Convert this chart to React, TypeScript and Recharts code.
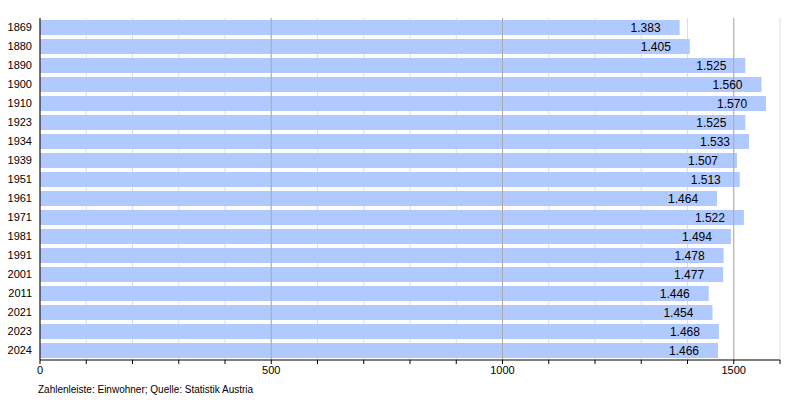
import { BarChart, Bar, XAxis, YAxis, CartesianGrid, ReferenceLine, LabelList } from 'recharts'

const years = ['1869', '1880', '1890', '1900', '1910', '1923', '1934', '1939', '1951', '1961', '1971', '1981', '1991', '2001', '2011', '2021', '2023', '2024']
const population = [1383, 1405, 1525, 1560, 1570, 1525, 1533, 1507, 1513, 1464, 1522, 1494, 1478, 1477, 1446, 1454, 1468, 1466]
const xTicks = [0, 100, 200, 300, 400, 500, 600, 700, 800, 900, 1000, 1100, 1200, 1300, 1400, 1500, 1600]
const majorTicks = [500, 1000, 1500]

const data = years.map((year, i) => ({ year, value: population[i] }))

// German thousands separator
const fmt = (v: any) => String(v).replace(/\B(?=(\d{3})+(?!\d))/g, '.')

export default function App() {
  return (
    <div style={{ position: 'absolute', left: 0, top: 0, width: 800, height: 400, background: '#fff', fontFamily: '"Liberation Sans", Arial, sans-serif' }}>
      <BarChart
        width={800}
        height={400}
        data={data}
        layout="vertical"
        margin={{ top: 18, right: 20, bottom: 20, left: 0 }}
        barSize={15}
      >
        <CartesianGrid horizontal={false} stroke="#dddddd" />
        {majorTicks.map((t) => (
          <ReferenceLine key={t} x={t} stroke="#aaaaaa" />
        ))}
        <XAxis
          type="number"
          domain={[0, 1600]}
          ticks={xTicks}
          interval={0}
          tickSize={4}
          tickFormatter={(v) => (v % 500 === 0 && v < 1600 ? String(v) : '')}
          stroke="#000"
          tick={{ fill: '#000', fontSize: 11 }}
          height={20}
        />
        <YAxis
          type="category"
          dataKey="year"
          width={40}
          tickLine={false}
          stroke="#000"
          tick={{ fill: '#000', fontSize: 11 }}
        />
        <Bar dataKey="value" fill="#b0c9ff" isAnimationActive={false}>
          <LabelList dataKey="value" position="insideRight" offset={19} formatter={fmt} fill="#000" fontSize={12} />
        </Bar>
      </BarChart>
      <div style={{ position: 'absolute', left: 38, top: 384, fontSize: 10, color: '#000' }}>
        Zahlenleiste: Einwohner; Quelle: Statistik Austria
      </div>
    </div>
  )
}
